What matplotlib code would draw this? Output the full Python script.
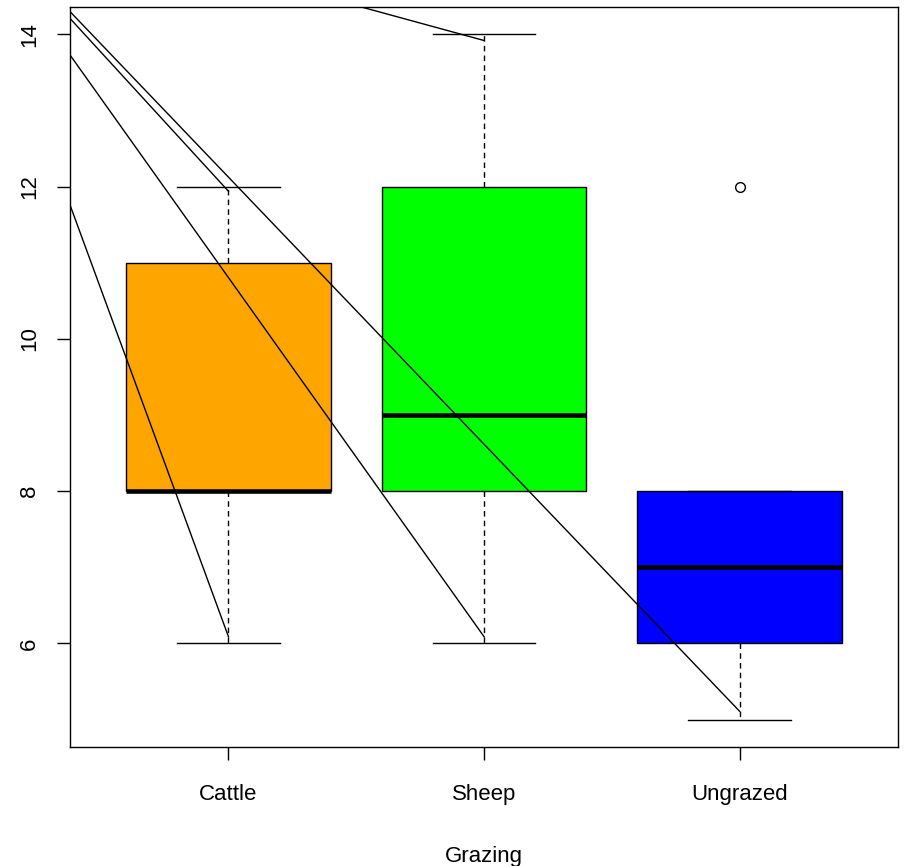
import matplotlib
matplotlib.use('Agg')
import matplotlib.pyplot as plt

plt.rcParams['font.family'] = ['Liberation Sans', 'DejaVu Sans']

# ---- data ----
categories = ['Cattle', 'Sheep', 'Ungrazed']
whisker_low = [6, 6, 5]
q1 = [8, 8, 6]
medians = [8, 9, 7]
q3 = [11, 12, 8]
whisker_high = [12, 14, 8]
outliers = [[], [], [12]]
colors = ['#FFA500', '#00FF00', '#0000FF']

# straight line segments (start -> end), in data coordinates
seg_x0 = [0.38, 0.38, 0.38, 0.38, 1.52]
seg_y0 = [11.76, 13.73, 14.30, 14.21, 14.36]
seg_x1 = [1, 2, 3, 1, 2]
seg_y1 = [6.09, 6.09, 5.11, 11.94, 13.92]

yticks = [6, 8, 10, 12, 14]

fig = plt.figure(figsize=(9.06, 8.66), dpi=100)
ax = fig.add_axes([70/906, 1-747/866, (898-70)/906, (747-7)/866])

stats = []
for i, c in enumerate(categories):
    stats.append(dict(label=c, med=medians[i], q1=q1[i], q3=q3[i],
                      whislo=whisker_low[i], whishi=whisker_high[i],
                      fliers=outliers[i]))

bp = ax.bxp(stats, positions=[1, 2, 3], widths=0.8, capwidths=0.4,
            patch_artist=True,
            boxprops=dict(edgecolor='black', linewidth=1.0),
            medianprops=dict(color='black', linewidth=3.3, solid_capstyle='butt'),
            whiskerprops=dict(color='black', linewidth=1.0, linestyle=(0, (4, 3))),
            capprops=dict(color='black', linewidth=1.0),
            flierprops=dict(marker='o', markerfacecolor='none',
                            markeredgecolor='black', markersize=7,
                            markeredgewidth=1.0))
for patch, col in zip(bp['boxes'], colors):
    patch.set_facecolor(col)

for x0, y0, x1, y1 in zip(seg_x0, seg_y0, seg_x1, seg_y1):
    ax.plot([x0, x1], [y0, y1], color='black', linewidth=1.0, zorder=6)

ax.set_xlim(0.38, 3.62)
ax.set_ylim(4.64, 14.36)
ax.set_xticks([1, 2, 3])
ax.set_xticklabels(categories, fontsize=16)
ax.set_yticks(yticks)
ax.set_yticklabels([str(v) for v in yticks], fontsize=16, rotation=90, va='center')
ax.tick_params(direction='out', length=9.4, width=1.0, color='black')
ax.tick_params(axis='x', pad=17)
ax.tick_params(axis='y', pad=12)
for s in ax.spines.values():
    s.set_linewidth(1.0)
    s.set_color('black')
ax.set_xlabel('Grazing', fontsize=16, labelpad=30)

fig.savefig('out.png', dpi=100)
